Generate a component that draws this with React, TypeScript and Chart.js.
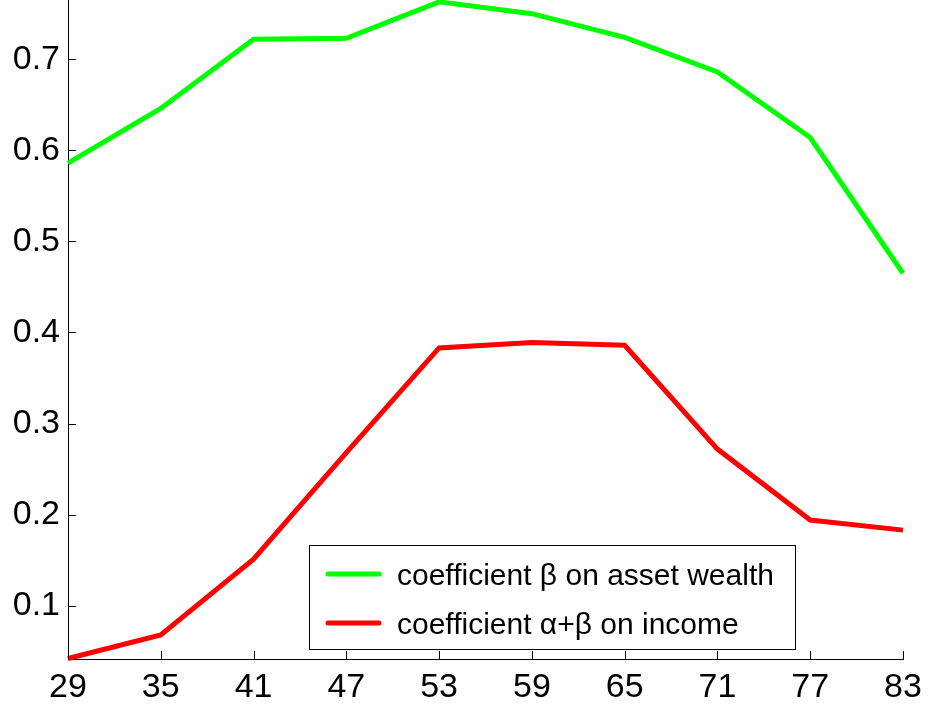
import React, { useEffect, useRef } from "react";
import { Chart, registerables } from "chart.js";

Chart.register(...registerables);

// Age groups on the horizontal axis
const ages = [29, 35, 41, 47, 53, 59, 65, 71, 77, 83];

// Estimated coefficients by age
const betaWealth = [0.586, 0.646, 0.722, 0.723, 0.763, 0.75, 0.724, 0.686, 0.614, 0.465];
const alphaBetaIncome = [0.042, 0.068, 0.151, 0.268, 0.383, 0.389, 0.386, 0.272, 0.194, 0.183];

// Tick values shown on the axes
const xTicks = [29, 35, 41, 47, 53, 59, 65, 71, 77, 83];
const yTicks = [0.1, 0.2, 0.3, 0.4, 0.5, 0.6, 0.7];

const seriesLabels = ["coefficient \u03b2 on asset wealth", "coefficient \u03b1+\u03b2 on income"];
const seriesColors = ["#00ff00", "#ff0000"];

const FONT = "'Liberation Sans', Arial, sans-serif";

// Short tick marks drawn inward from the left and bottom axis lines
const inwardTicks = {
  id: "inwardTicks",
  afterDatasetsDraw(chart: any) {
    const { ctx, chartArea, scales } = chart;
    const len = 8;
    ctx.save();
    ctx.strokeStyle = "#000";
    ctx.lineWidth = 1;
    ctx.beginPath();
    scales.x.ticks.forEach((t: any) => {
      const px = Math.round(scales.x.getPixelForValue(t.value)) + 0.5;
      ctx.moveTo(px, chartArea.bottom);
      ctx.lineTo(px, chartArea.bottom - len);
    });
    scales.y.ticks.forEach((t: any) => {
      const py = Math.round(scales.y.getPixelForValue(t.value)) + 0.5;
      ctx.moveTo(chartArea.left, py);
      ctx.lineTo(chartArea.left + len, py);
    });
    ctx.stroke();
    ctx.restore();
  },
};

// Boxed legend placed inside the plot area, lower right
const boxedLegend = {
  id: "boxedLegend",
  afterDraw(chart: any) {
    const { ctx } = chart;
    const bx = 309.5, by = 545.5, bw = 486, bh = 104;
    ctx.save();
    ctx.fillStyle = "#fff";
    ctx.fillRect(bx, by, bw, bh);
    ctx.strokeStyle = "#000";
    ctx.lineWidth = 1;
    ctx.strokeRect(bx, by, bw, bh);
    chart.data.datasets.forEach((ds: any, i: number) => {
      const lineY = 574 + i * 49;
      ctx.strokeStyle = ds.borderColor;
      ctx.lineWidth = 5;
      ctx.lineCap = "round";
      ctx.beginPath();
      ctx.moveTo(328, lineY);
      ctx.lineTo(379, lineY);
      ctx.stroke();
      ctx.fillStyle = "#000";
      ctx.font = `30px ${FONT}`;
      ctx.textBaseline = "alphabetic";
      ctx.textAlign = "left";
      ctx.fillText(ds.label, 397, 585 + i * 49);
    });
    ctx.restore();
  },
};

export default function App() {
  const canvasRef = useRef<HTMLCanvasElement | null>(null);

  useEffect(() => {
    document.body.style.margin = "0";
    const canvas = canvasRef.current;
    if (!canvas) return;
    const chart = new Chart(canvas, {
      type: "line",
      data: {
        datasets: [betaWealth, alphaBetaIncome].map((vals, i) => ({
          label: seriesLabels[i],
          data: ages.map((a, j) => ({ x: a, y: vals[j] })),
          borderColor: seriesColors[i],
          backgroundColor: seriesColors[i],
          borderWidth: 5,
          pointRadius: 0,
          tension: 0,
          clip: 6,
        })),
      },
      options: {
        animation: false,
        responsive: false,
        maintainAspectRatio: false,
        layout: { padding: { top: 0, right: 25, bottom: 0, left: 0 } },
        plugins: { legend: { display: false }, tooltip: { enabled: false } },
        scales: {
          x: {
            type: "linear",
            min: 29,
            max: 83,
            afterBuildTicks: (s: any) => {
              s.ticks = xTicks.map((v) => ({ value: v }));
            },
            afterFit: (s: any) => {
              s.height = 52;
              s.paddingLeft = 0;
              s.paddingRight = 0;
            },
            grid: { display: false, drawTicks: false },
            border: { display: true, color: "#000", width: 1 },
            ticks: {
              color: "#000",
              font: { family: FONT, size: 34 },
              padding: 8,
              maxRotation: 0,
              autoSkip: false,
            },
          },
          y: {
            type: "linear",
            min: 0.0415,
            max: 0.765,
            afterBuildTicks: (s: any) => {
              s.ticks = yTicks.map((v) => ({ value: v }));
            },
            afterFit: (s: any) => {
              s.width = 68;
              s.paddingTop = 0;
              s.paddingBottom = 0;
            },
            grid: { display: false, drawTicks: false },
            border: { display: true, color: "#000", width: 1 },
            ticks: {
              color: "#000",
              font: { family: FONT, size: 34 },
              padding: 8,
              autoSkip: false,
              callback: (v: any) => Number(v).toFixed(1),
            },
          },
        },
      },
      plugins: [inwardTicks, boxedLegend],
    });
    return () => chart.destroy();
  }, []);

  return (
    <div style={{ position: "absolute", left: 0, top: 0, width: 928, height: 711, background: "#fff" }}>
      <canvas ref={canvasRef} width={928} height={711} style={{ width: 928, height: 711 }} />
    </div>
  );
}
